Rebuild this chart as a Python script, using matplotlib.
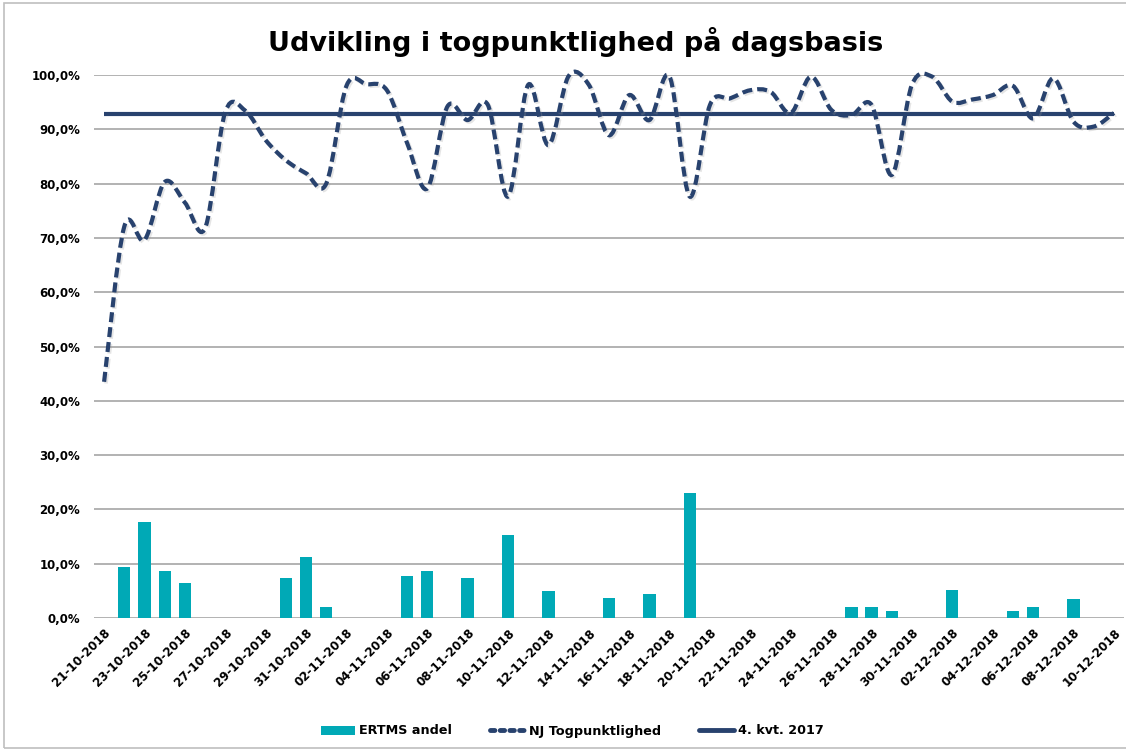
import numpy as np
import pandas as pd
import matplotlib
matplotlib.use("Agg")
import matplotlib.pyplot as plt
from matplotlib.path import Path
from matplotlib.patches import PathPatch, Patch, Rectangle
from matplotlib.lines import Line2D
import matplotlib.patheffects as pe

# ---------------- data ----------------
days = pd.date_range("2018-10-21", "2018-12-10", freq="D")
day_labels = [d.strftime("%d-%m-%Y") for d in days]

punctuality = [43.5, 72.1, 69.6, 80.3, 76.5, 71.8, 93.2, 93.4, 88.0, 84.3,
               81.9, 80.0, 98.0, 98.3, 97.2, 87.5, 79.1, 94.2, 91.7, 94.5,
               77.6, 98.2, 87.1, 99.8, 98.2, 88.9, 96.3, 91.7, 99.7, 77.6,
               94.5, 95.7, 97.2, 96.9, 93.0, 99.7, 93.6, 92.6, 94.5, 81.6,
               98.2, 99.7, 95.1, 95.5, 96.3, 98.0, 92.0, 99.4, 91.4, 90.5,
               93.0]

ertms = [0, 9.45, 17.7, 8.65, 6.5, 0, 0, 0, 0, 7.4,
         11.2, 2.0, 0, 0, 0, 7.7, 8.65, 0, 7.4, 0,
         15.2, 0, 4.9, 0, 0, 3.7, 0, 4.5, 0, 23.1,
         0, 0, 0, 0, 0, 0, 0, 2.0, 2.0, 1.2,
         0, 0, 5.2, 0, 0, 1.2, 2.0, 0, 3.5, 0,
         0]

benchmark_q4_2017 = 92.9

title = "Udvikling i togpunktlighed på dagsbasis"
series_names = ["ERTMS andel", "NJ Togpunktlighed", "4. kvt. 2017"]

# ---------------- style ----------------
navy = "#28426E"
teal = "#00A9B6"
grid_c = "#A6A6A6"

W, H = 1126, 751
fig = plt.figure(figsize=(W / 100, H / 100), dpi=100)
fig.patch.set_facecolor("white")

ax = fig.add_axes([94 / W, 1 - 618 / H, (1124 - 94) / W, (618 - 75) / H])
ax.set_facecolor("white")

x = np.arange(len(days))
p = np.array(punctuality) / 100.0
e = np.array(ertms) / 100.0

# bars
ax.bar(x, e, width=0.61, color=teal, zorder=2, label=series_names[0])

# benchmark line
ax.plot([x[0], x[-1]], [benchmark_q4_2017 / 100] * 2, color=navy, lw=3.0,
        solid_capstyle="butt", zorder=3)

# smoothed dashed punctuality line (Catmull-Rom as cubic Bezier path)
pts = np.column_stack([x, p])
ext = np.vstack([pts[0], pts, pts[-1]])
verts = [tuple(pts[0])]
codes = [Path.MOVETO]
for i in range(len(pts) - 1):
    p0, p1, p2, p3 = ext[i], ext[i + 1], ext[i + 2], ext[i + 3]
    c1 = p1 + (p2 - p0) / 6.0
    c2 = p2 - (p3 - p1) / 6.0
    verts += [tuple(c1), tuple(c2), tuple(p2)]
    codes += [Path.CURVE4] * 3
curve = PathPatch(Path(verts, codes), fill=False, edgecolor=navy, lw=3.0,
                  linestyle=(0, (2.4, 1.2)), capstyle="butt", zorder=4,
                  clip_on=False)
curve.set_path_effects([pe.SimpleLineShadow(offset=(1.2, -1.2),
                                            shadow_color="#9A9A9A", alpha=0.25),
                        pe.Normal()])
ax.add_patch(curve)

# axes
ax.set_xlim(-0.5, len(days) - 0.5)
ax.set_ylim(0, 1.0)
yt = np.arange(0, 1.01, 0.1)
ax.set_yticks(yt)
ax.set_yticklabels([f"{v*100:.1f}%".replace(".", ",") for v in yt],
                   fontsize=8.5, fontweight="bold")
ax.set_xticks(x[::2])
ax.set_xticklabels(day_labels[::2], rotation=45, ha="right",
                   rotation_mode="anchor", fontsize=8.6, fontweight="bold")
ax.tick_params(axis="both", length=0)
ax.tick_params(axis="y", pad=10)
ax.tick_params(axis="x", pad=6)
ax.grid(axis="y", color=grid_c, lw=1.2, zorder=0)
ax.set_axisbelow(True)
for s in ax.spines.values():
    s.set_visible(False)

# title
fig.text(0.511, 1 - 42 / H, title, ha="center", va="center",
         fontsize=19.5, fontweight="bold")

# legend
handles = [Patch(facecolor=teal, edgecolor="none"),
           Line2D([], [], color=navy, lw=3.5, linestyle=(0, (0.9, 1.1)),
                  dash_capstyle="round"),
           Line2D([], [], color=navy, lw=3.5, solid_capstyle="round")]
fig.legend(handles, series_names, loc="center", bbox_to_anchor=(0.508, 1 - 731 / H),
           ncol=3, frameon=False, prop={"size": 9.2, "weight": "bold"},
           handlelength=2.7, columnspacing=3.0, handletextpad=0.3)

# chart frame
fig.add_artist(Rectangle((4 / W, 3 / H), 1.2, 1 - 6 / H, transform=fig.transFigure,
                         fill=False, edgecolor="#BFBFBF", lw=1.2))

fig.savefig("out.png", dpi=100, facecolor="white")
